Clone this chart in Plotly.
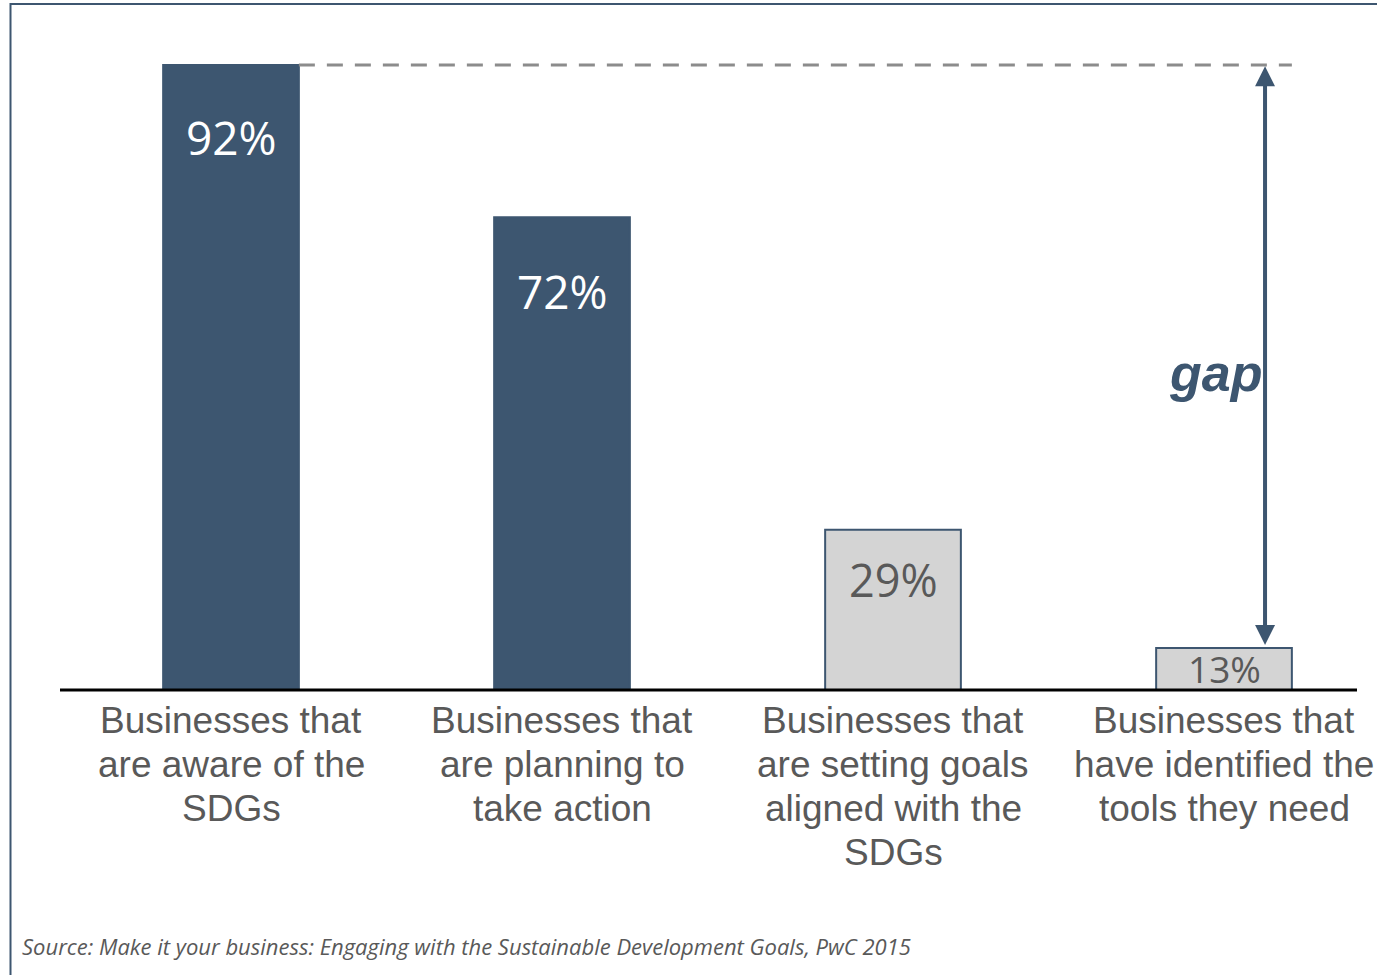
import plotly.graph_objects as go

# ---- data ----
categories = [
    "Businesses that<br>are aware of the<br>SDGs",
    "Businesses that<br>are planning to<br>take action",
    "Businesses that<br>are setting goals<br>aligned with the<br>SDGs",
    "Businesses that<br>have identified the<br>tools they need",
]
percent_labels = ["92%", "72%", "29%", "13%"]
# bar heights as drawn in the picture (the original is not drawn to scale)
bar_heights = [92, 69.6, 23.6, 6.2]
source_text = "Source: Make it your business: Engaging with the Sustainable Development Goals, PwC 2015"

# ---- styles ----
DARK = "#3d5670"
LIGHT = "#d4d4d4"
TXT = "#595959"
bar_colors = [DARK, DARK, LIGHT, LIGHT]
label_colors = ["white", "white", TXT, TXT]
label_sizes = [46, 46, 45, 37]
label_shift = [-72, -74, -50, -21]
cat_first_line_px = 30
cat_line_px = 44

W, H = 1377, 975
x_unit = 331.0
x0_px = 231.0
base_px = 690.0
y_unit = 625.0 / 92.0
xr = [-x0_px / x_unit, (W - x0_px) / x_unit]
yr = [-(H - base_px) / y_unit, base_px / y_unit]

xs = list(range(len(categories)))
bar_w = 0.41

fig = go.Figure()
fig.add_trace(go.Bar(
    x=xs, y=bar_heights, width=bar_w,
    marker=dict(color=bar_colors, line=dict(color=DARK, width=2)),
    hoverinfo="skip",
))

# percentage labels inside bars
for i, (lab, h) in enumerate(zip(percent_labels, bar_heights)):
    fig.add_annotation(x=xs[i], y=h, text=lab, showarrow=False,
                       yanchor="middle", yshift=label_shift[i],
                       font=dict(family="Open Sans", size=label_sizes[i], color=label_colors[i]))

# category labels under the baseline (one annotation per line for tight line spacing)
for i, c in enumerate(categories):
    for k, line in enumerate(c.split("<br>")):
        fig.add_annotation(x=xs[i], y=0, text=line, showarrow=False,
                           yanchor="middle", yshift=-(cat_first_line_px + cat_line_px * k),
                           font=dict(family="Liberation Sans", size=37, color=TXT))

# baseline
fig.add_shape(type="line", xref="x", yref="y",
              x0=xr[0] + 60 / x_unit, x1=xr[0] + 1357 / x_unit, y0=0, y1=0,
              line=dict(color="black", width=3), layer="above")

# dashed reference line at the highest bar
fig.add_shape(type="line", xref="x", yref="y",
              x0=xs[0] + bar_w / 2, x1=xs[-1] + bar_w / 2,
              y0=bar_heights[0], y1=bar_heights[0],
              line=dict(color="#8c8c8c", width=3, dash="16px,12px"))

# double-headed gap arrow
arrow_x = xs[-1] + 0.124
fig.add_annotation(x=arrow_x, y=bar_heights[0] - 0.2, ax=arrow_x, ay=bar_heights[-1] + 0.2,
                   xref="x", yref="y", axref="x", ayref="y", text="",
                   showarrow=True, arrowhead=2, arrowside="end+start",
                   arrowsize=1.0, arrowwidth=4, arrowcolor=DARK, standoff=0, startstandoff=0)
fig.add_annotation(x=arrow_x, y=(bar_heights[0] + bar_heights[-1]) / 2 - 2.4,
                   text="<b><i>gap</i></b>", showarrow=False,
                   xanchor="right", xshift=-1, yanchor="middle",
                   font=dict(family="Liberation Sans", size=52, color=DARK))

# source
fig.add_annotation(x=20 / W, y=1 - 946 / H, xref="paper", yref="paper",
                   text="<i>" + source_text + "</i>", showarrow=False,
                   xanchor="left", yanchor="middle",
                   font=dict(family="Open Sans", size=22, color=TXT))

# frame
fig.add_shape(type="rect", xref="paper", yref="paper",
              x0=10.5 / W, x1=1.02, y0=-0.02, y1=1 - 4 / H,
              line=dict(color=DARK, width=2))

fig.update_layout(
    width=W, height=H,
    margin=dict(l=0, r=0, t=0, b=0),
    plot_bgcolor="white", paper_bgcolor="white",
    showlegend=False,
    xaxis=dict(range=xr, visible=False, fixedrange=True),
    yaxis=dict(range=yr, visible=False, fixedrange=True),
)

fig.write_html("out.html")
